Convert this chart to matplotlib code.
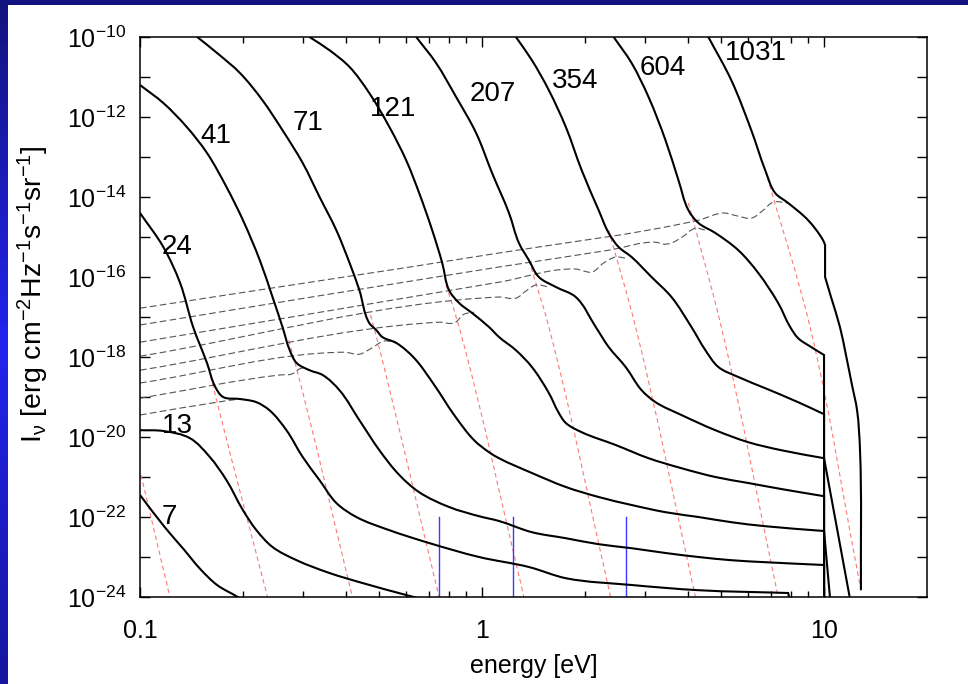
import numpy as np
import matplotlib.pyplot as plt
from matplotlib.colors import LinearSegmentedColormap
from matplotlib.patches import Rectangle, PathPatch
from matplotlib.path import Path
from matplotlib.ticker import FixedLocator, FuncFormatter, NullFormatter

# spectra, labelled by the number written next to each one
# energies in eV, intensities stored as log10(I_nu)
e_7 = [0.100, 0.118, 0.134, 0.150, 0.168, 0.193, 0.216]
lg_7 = [-21.45, -22.25, -22.80, -23.30, -23.70, -24.00, -24.28]

e_13 = [0.100, 0.117, 0.140, 0.160, 0.179, 0.200, 0.219, 0.244, 0.287, 0.358, 0.447, 0.600, 0.700]
lg_13 = [-19.83, -19.85, -20.03, -20.50, -21.08, -21.83, -22.33, -22.75, -23.08, -23.40, -23.65, -23.95, -24.10]

e_24 = [0.100, 0.117, 0.131, 0.143, 0.157, 0.166, 0.175, 0.196, 0.219, 0.239, 0.268, 0.299,
        0.335, 0.375, 0.429, 0.536, 0.700, 0.980, 1.371, 1.758, 2.737, 4.293, 7.853, 8.01]
lg_24 = [-14.40, -15.25, -16.15, -17.25, -18.15, -18.75, -19.00, -19.05, -19.13, -19.33, -19.83, -20.50,
         -21.08, -21.65, -22.00, -22.33, -22.65, -23.00, -23.25, -23.53, -23.70, -23.83, -23.90, -24.20]

e_41 = [0.100, 0.117, 0.137, 0.157, 0.179, 0.200, 0.224, 0.244, 0.261, 0.274, 0.287, 0.313, 0.342,
        0.383, 0.438, 0.501, 0.573, 0.655, 0.801, 0.980, 1.121, 1.399, 1.758, 2.193, 2.737, 3.439,
        4.293, 5.356, 6.730, 10.0, 10.0]
lg_41 = [-11.20, -11.65, -12.25, -12.90, -13.75, -14.58, -15.58, -16.50, -17.25, -17.83, -18.15, -18.33, -18.45,
         -18.83, -19.58, -20.33, -20.95, -21.38, -21.75, -21.98, -22.10, -22.38, -22.53, -22.68, -22.78, -22.90,
         -23.00, -23.08, -23.13, -23.20, -25.0]

e_71 = [0.147, 0.168, 0.196, 0.228, 0.261, 0.299, 0.335, 0.375, 0.410, 0.438, 0.468, 0.491, 0.511,
        0.562, 0.634, 0.725, 0.829, 0.948, 1.048, 1.121, 1.399, 1.758, 2.193, 2.737, 3.439, 4.293,
        5.356, 6.730, 10.0, 10.55]
lg_71 = [-10.00, -10.40, -10.90, -11.58, -12.33, -13.15, -14.00, -14.83, -15.65, -16.33, -17.15, -17.33, -17.50,
         -17.65, -18.03, -18.70, -19.45, -20.08, -20.38, -20.53, -20.90, -21.25, -21.50, -21.70, -21.88, -22.00,
         -22.13, -22.23, -22.35, -24.58]

e_121 = [0.313, 0.358, 0.410, 0.468, 0.536, 0.600, 0.655, 0.715, 0.765, 0.801, 0.857, 0.935, 1.048,
         1.121, 1.256, 1.399, 1.568, 1.677, 1.758, 1.956, 2.459, 3.068, 3.829, 4.810, 6.003, 7.494,
         10.0, 10.0]
lg_121 = [-10.00, -10.33, -10.75, -11.40, -12.25, -13.08, -13.90, -14.83, -15.65, -16.33, -16.65, -16.90, -17.25,
          -17.50, -17.83, -18.25, -18.90, -19.40, -19.65, -19.88, -20.20, -20.53, -20.78, -21.00, -21.15, -21.30,
          -21.48, -25.0]

e_207 = [0.642, 0.734, 0.840, 0.961, 1.070, 1.199, 1.282, 1.371, 1.466, 1.644, 1.879, 2.150, 2.346,
         2.630, 2.928, 3.217, 3.829, 4.810, 6.003, 7.494, 10.0, 12.23]
lg_207 = [-10.00, -10.65, -11.50, -12.40, -13.40, -14.40, -15.15, -15.58, -16.00, -16.25, -16.50, -17.25, -17.75,
          -18.25, -18.83, -19.13, -19.45, -19.83, -20.13, -20.33, -20.53, -24.58]

e_354 = [1.256, 1.399, 1.568, 1.758, 1.956, 2.193, 2.346, 2.508, 2.737, 3.130, 3.580, 4.095, 4.499,
         4.909, 5.614, 6.730, 8.400, 10.0, 10.0]
lg_354 = [-10.00, -10.58, -11.33, -12.25, -13.33, -14.33, -14.90, -15.25, -15.50, -16.00, -16.50, -17.25, -17.83,
          -18.25, -18.50, -18.78, -19.13, -19.43, -25.0]

e_604 = [2.426, 2.737, 3.068, 3.439, 3.753, 4.013, 4.293, 4.810, 5.614, 6.423, 7.342, 7.961, 8.400,
         9.165, 10.0, 10.0]
lg_604 = [-10.00, -10.65, -11.50, -12.58, -13.58, -14.33, -14.65, -14.90, -15.33, -15.90, -16.65, -17.25, -17.53,
          -17.75, -17.95, -25.0]

e_1031 = [4.589, 5.356, 6.127, 6.730, 7.196, 7.853, 8.982, 9.933, 10.07, 10.07, 10.48, 11.13, 11.59,
          12.07, 12.49, 12.74, 12.82]
lg_1031 = [-10.00, -11.08, -12.33, -13.33, -13.90, -14.15, -14.58, -15.08, -15.20, -16.00, -16.50, -17.25, -17.95,
           -18.70, -19.33, -20.33, -23.83]

spec_names = ['7', '13', '24', '41', '71', '121', '207', '354', '604', '1031']
label_e = [0.122, 0.129, 0.128, 0.167, 0.311, 0.550, 1.077, 1.867, 3.371, 6.336]
label_lg = [-22.0, -19.73, -15.25, -12.48, -12.15, -11.80, -11.43, -11.10, -10.78, -10.40]

# grey dashed floors, one per spectrum from 24 to 1031
floor_e = [
    [0.100, 0.177, 0.196],
    [0.100, 0.256, 0.277, 0.297, 0.313],
    [0.100, 0.396, 0.438, 0.475, 0.518, 0.562],
    [0.100, 0.749, 0.829, 0.886, 0.948],
    [0.100, 1.121, 1.256, 1.344, 1.437, 1.568],
    [0.100, 1.121, 1.879, 1.983, 2.093, 2.268, 2.459, 2.630],
    [0.100, 1.121, 2.346, 3.217, 3.393, 3.580, 3.880, 4.207, 4.499],
    [0.100, 1.121, 4.293, 5.076, 5.614, 6.127, 6.640, 7.100, 7.853],
]
floor_lg = [
    [-19.45, -19.10, -19.05],
    [-19.03, -18.45, -18.43, -18.28, -18.33],
    [-18.65, -17.88, -17.93, -17.78, -17.60, -17.65],
    [-18.33, -17.13, -17.15, -16.93, -16.88],
    [-17.98, -16.50, -16.53, -16.35, -16.20, -16.25],
    [-17.63, -16.13, -15.80, -15.85, -15.88, -15.65, -15.50, -15.53],
    [-17.20, -15.75, -15.33, -15.13, -15.18, -15.15, -14.98, -14.78, -14.83],
    [-16.78, -15.40, -14.58, -14.40, -14.48, -14.53, -14.33, -14.13, -14.15],
]

# red dashed tracks
track_e = [
    [0.1007, 0.1223],
    [0.159, 0.162, 0.236],
    [0.272, 0.279, 0.418],
    [0.472, 0.494, 0.749],
    [0.785, 0.857, 1.326],
    [1.371, 1.568, 2.377],
    [2.346, 2.812, 4.207],
    [4.013, 5.008, 7.342],
    [6.730, 9.103, 12.82],
]
track_lg = [
    [-20.95, -24.0],
    [-18.28, -18.58, -24.0],
    [-17.58, -17.90, -24.0],
    [-16.95, -17.58, -24.0],
    [-16.20, -17.25, -24.0],
    [-15.58, -17.25, -24.0],
    [-14.83, -17.25, -24.0],
    [-14.15, -17.25, -24.0],
    [-13.33, -17.25, -23.83],
]

# blue markers
marker_e = [0.749, 1.231, 2.63]
marker_lg = [-24.0, -22.0]

spectra = [(e_7, lg_7), (e_13, lg_13), (e_24, lg_24), (e_41, lg_41), (e_71, lg_71),
           (e_121, lg_121), (e_207, lg_207), (e_354, lg_354), (e_604, lg_604), (e_1031, lg_1031)]

plt.rcParams['font.family'] = ['Liberation Sans', 'DejaVu Sans']
plt.rcParams['mathtext.fontset'] = 'custom'
plt.rcParams['mathtext.rm'] = 'Liberation Sans'
plt.rcParams['mathtext.it'] = 'Liberation Sans:italic'
plt.rcParams['mathtext.default'] = 'regular'

W, H = 968, 684
fig = plt.figure(figsize=(W / 100, H / 100), dpi=100)
fig.patch.set_facecolor('white')

# blue frame along the top and left edge
fig.patches.append(Rectangle((0, 1 - 5 / H), 1, 5 / H, transform=fig.transFigure,
                             facecolor='#13137f', edgecolor='none', zorder=0))
strip = fig.add_axes([0, 0, 8 / W, 1])
strip.set_axis_off()
blues = LinearSegmentedColormap.from_list('edge', ['#13137d', '#2323ee', '#16169e'])
strip.imshow(np.linspace(0, 1, 256).reshape(-1, 1), cmap=blues, aspect='auto',
             extent=[0, 1, 0, 1])

ax = fig.add_axes([140 / W, 87 / H, 787 / W, 560 / H])
ax.set_xscale('log')
ax.set_yscale('log')
ax.set_xlim(0.1, 20)
ax.set_ylim(1e-24, 1e-10)


def smooth_line(ax, e, lg, **kw):
    """Draw a curve through the points as cubic Bezier pieces (tangents
    worked out on screen); sharp turns and vertical drops stay corners."""
    e = np.asarray(e)
    pts = ax.transData.transform(np.column_stack([e, 10.0 ** np.asarray(lg)]))
    d = np.diff(pts, axis=0)
    seg = np.hypot(d[:, 0], d[:, 1])
    u = d / seg[:, None]
    n = len(pts)
    tan = np.zeros_like(pts)
    tan[0], tan[-1] = u[0], u[-1]
    corner = np.zeros(n, bool)
    for i in range(1, n - 1):
        corner[i] = (np.dot(u[i - 1], u[i]) < 0.5 or e[i] == e[i - 1] or e[i] == e[i + 1])
        t = u[i - 1] + u[i]
        tan[i] = t / np.hypot(*t)
    verts, codes = [pts[0]], [Path.MOVETO]
    for i in range(n - 1):
        a = u[i] if corner[i] else tan[i]
        b = u[i] if corner[i + 1] else tan[i + 1]
        verts += [pts[i] + a * seg[i] / 3, pts[i + 1] - b * seg[i] / 3, pts[i + 1]]
        codes += [Path.CURVE4] * 3
    path = Path(ax.transData.inverted().transform(np.array(verts)), codes)
    ax.add_patch(PathPatch(path, fill=False, **kw))


for e, lg in zip(track_e, track_lg):
    smooth_line(ax, e, lg, edgecolor='#ff7777', lw=0.8, linestyle=(0, (4, 3)), zorder=2)

for e, lg in zip(floor_e, floor_lg):
    smooth_line(ax, e, lg, edgecolor='#555555', lw=0.8, linestyle=(0, (6, 3)), zorder=2)

for e in marker_e:
    ax.plot([e, e], 10 ** np.array(marker_lg), color='#3b3bff', lw=1.0, zorder=2)

for e, lg in spectra:
    smooth_line(ax, e, lg, edgecolor='black', lw=1.5, zorder=3)

for name, e, lg in zip(spec_names, label_e, label_lg):
    ax.text(e, 10 ** lg, name, fontsize=20, ha='center', va='center', zorder=4)

ax.xaxis.set_major_locator(FixedLocator([0.1, 1, 10]))
ax.xaxis.set_major_formatter(FuncFormatter(lambda v, pos: '%g' % v))
ax.xaxis.set_minor_locator(FixedLocator([k * d for d in (0.1, 1, 10) for k in range(2, 10) if k * d < 20]))
ax.xaxis.set_minor_formatter(NullFormatter())

ax.yaxis.set_major_locator(FixedLocator([10.0 ** k for k in range(-24, -9)]))
ax.yaxis.set_minor_locator(FixedLocator([]))


def exp_label(v, pos):
    k = int(round(np.log10(v)))
    return r'$10^{%d}$' % k if k % 2 == 0 else ''


ax.yaxis.set_major_formatter(FuncFormatter(exp_label))

ax.tick_params(which='both', direction='in', top=True, right=True, width=1.0, labelsize=18)
ax.tick_params(which='major', length=7)
ax.tick_params(axis='y', which='major', pad=10)
ax.tick_params(axis='x', which='major', pad=16)
ax.tick_params(which='minor', length=4)
for s in ax.spines.values():
    s.set_linewidth(1.1)

ax.set_xlabel('energy [eV]', fontsize=18)
ax.xaxis.label.set_va('center')
ax.xaxis.set_label_coords(0.5, -0.123)
ax.set_ylabel(r'I$_ν$ [erg cm$^{-2}$Hz$^{-1}$s$^{-1}$sr$^{-1}$]', fontsize=20.5)
ax.yaxis.label.set_va('center')
ax.yaxis.set_label_coords(-0.135, 0.541)

fig.savefig('out.png', dpi=100)
